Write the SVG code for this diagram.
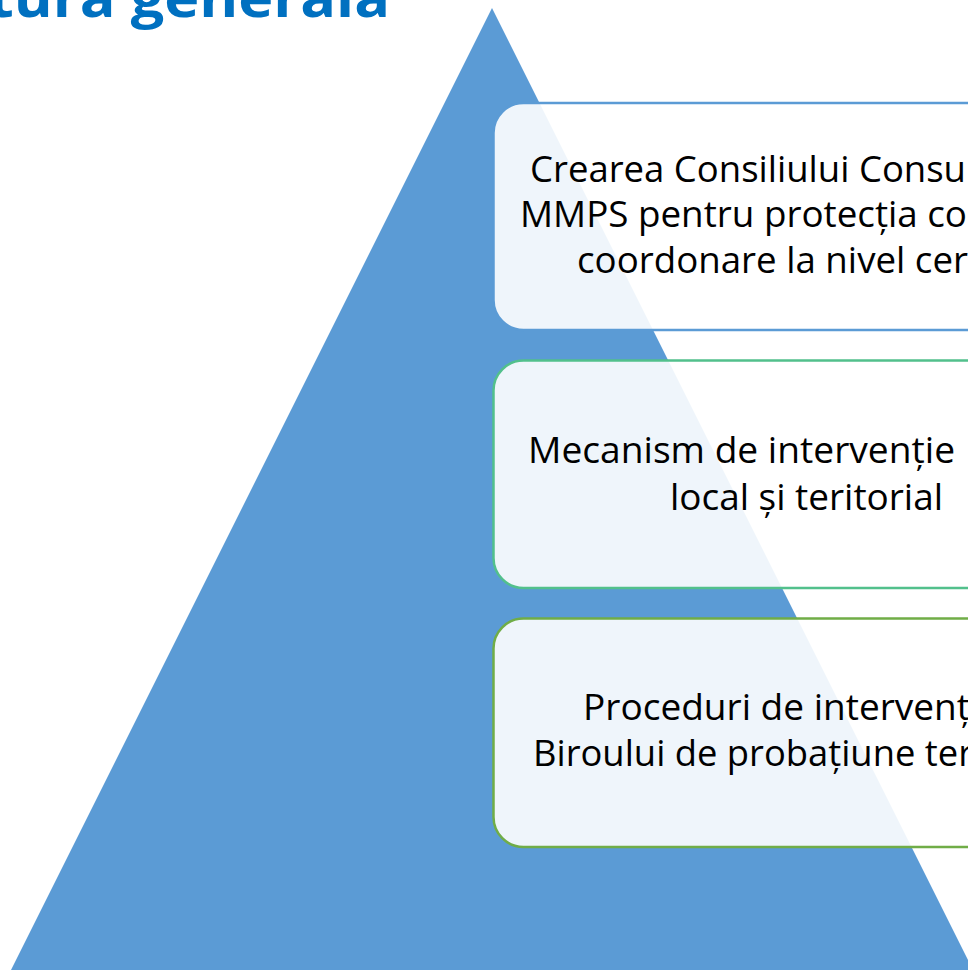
<svg xmlns="http://www.w3.org/2000/svg" width="968" height="970" viewBox="0 0 968 970">
<style>
.title{font-family:"Open Sans","Liberation Sans",sans-serif;font-weight:bold;font-size:54px;fill:#0070C0}
.lbl{font-family:"Open Sans","Liberation Sans",sans-serif;font-size:37px;fill:#000}
.box{fill:#fff;fill-opacity:0.9;stroke-width:2.5}
</style>
<rect width="968" height="970" fill="#fff"/>
<text class="title" x="-12" y="17" textLength="402" lengthAdjust="spacingAndGlyphs">tura generală</text>
<polygon id="pyramid" points="492,8 11,970 973,970" fill="#5B9BD5"/>
<g id="level1">
<rect class="box" x="493.5" y="103" width="520" height="227" rx="30" stroke="#5B9BD5"/>
<text class="lbl" x="530" y="182" textLength="436" lengthAdjust="spacingAndGlyphs">Crearea Consiliului Consu</text>
<text class="lbl" x="520" y="227" textLength="447" lengthAdjust="spacingAndGlyphs">MMPS pentru protecția co</text>
<text class="lbl" x="577" y="273" textLength="391" lengthAdjust="spacingAndGlyphs">coordonare la nivel cer</text>
</g>
<g id="level2">
<rect class="box" x="493.5" y="360.5" width="520" height="227.5" rx="30" stroke="#52C08C"/>
<text class="lbl" x="528" y="463" textLength="427" lengthAdjust="spacingAndGlyphs">Mecanism de intervenție</text>
<text class="lbl" x="670" y="510" textLength="273" lengthAdjust="spacingAndGlyphs">local și teritorial</text>
</g>
<g id="level3">
<rect class="box" x="493.5" y="618.5" width="520" height="228.5" rx="30" stroke="#70AD47"/>
<text class="lbl" x="583" y="720" textLength="387" lengthAdjust="spacingAndGlyphs">Proceduri de intervenț</text>
<text class="lbl" x="533" y="766" textLength="440" lengthAdjust="spacingAndGlyphs">Biroului de probațiune ter</text>
</g>
<g id="connectors"/>
</svg>
